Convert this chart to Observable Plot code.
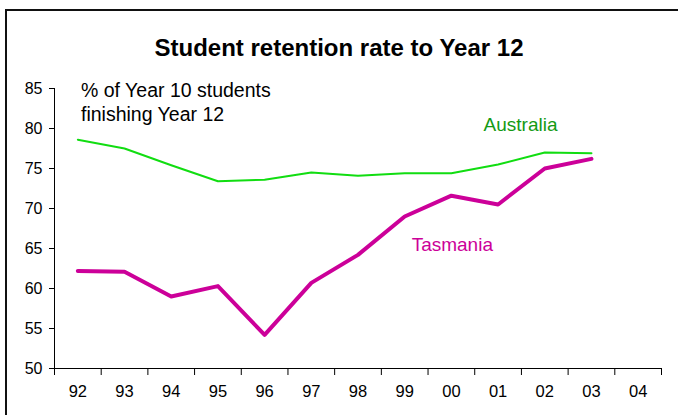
<!DOCTYPE html>
<html>
<head>
<meta charset="utf-8">
<script src="https://cdn.jsdelivr.net/npm/d3@7"></script>
<script src="https://cdn.jsdelivr.net/npm/@observablehq/plot@0.6"></script>
<style>
  html, body { margin: 0; padding: 0; background: #fff; }
  #wrap { position: relative; width: 678px; height: 415px; overflow: hidden; font-family: "Liberation Sans", Arial, sans-serif; }
  #frame { position: absolute; left: 5px; top: 9px; width: 700px; height: 420px; border-top: 2px solid #111; border-left: 2px solid #111; box-sizing: border-box; }
  #title { position: absolute; left: 0; top: 36px; width: 678px; text-align: center; font-size: 24px; font-weight: bold; color: #000; margin: 0; line-height: 24px; }
  #sub { position: absolute; left: 81px; top: 78px; font-size: 19.5px; line-height: 24px; color: #000; }
  #chart { position: absolute; left: 0; top: 0; }
</style>
</head>
<body>
<div id="wrap">
  <div id="frame"></div>
  <div id="chart"></div>
  <div id="title">Student retention rate to Year 12</div>
  <div id="sub">% of Year 10 students<br>finishing Year 12</div>
</div>
<script>
const years = ["92","93","94","95","96","97","98","99","00","01","02","03","04"];
const australia = [78.6, 77.5, 75.4, 73.4, 73.6, 74.5, 74.1, 74.4, 74.4, 75.5, 77.0, 76.9];
const tasmania  = [62.2, 62.1, 59.0, 60.3, 54.2, 60.7, 64.2, 69.0, 71.6, 70.5, 75.0, 76.2];
const yTicks = [50, 55, 60, 65, 70, 75, 80, 85];
const seriesLabels = [
  {text: "Australia", year: 9.48, value: 80.5, color: "#149a14"},
  {text: "Tasmania", year: 8.02, value: 65.5, color: "#cc0099"}
];

const ausData = australia.map((v, i) => ({i, v}));
const tasData = tasmania.map((v, i) => ({i, v}));
const centers = years.map((_, i) => i);
const bounds = d3.range(years.length + 1).map(i => i - 0.5);

const chart = Plot.plot({
  width: 678,
  height: 415,
  marginLeft: 54,
  marginRight: 17,
  marginTop: 88,
  marginBottom: 47,
  style: {fontFamily: "'Liberation Sans', Arial, sans-serif", fontSize: "16px", background: "transparent", overflow: "visible"},
  x: {type: "linear", domain: [-0.5, years.length - 0.5]},
  y: {domain: [50, 85]},
  marks: [
    Plot.axisY({ticks: yTicks, tickSize: 5, tickPadding: 7, fontSize: 16, label: null, stroke: "#000", color: "#000"}),
    Plot.axisX({ticks: bounds, tickSize: 7, tickFormat: () => "", label: null, stroke: "#000"}),
    Plot.axisX({ticks: centers, tickSize: 0, tickPadding: 17, tickFormat: i => years[i], fontSize: 16.5, label: null, color: "#000"}),
    Plot.ruleX([-0.5], {stroke: "#000", strokeWidth: 1}),
    Plot.ruleY([50], {stroke: "#000", strokeWidth: 1}),
    Plot.line(ausData, {x: "i", y: "v", stroke: "#11dd11", strokeWidth: 2}),
    Plot.line(tasData, {x: "i", y: "v", stroke: "#cc0099", strokeWidth: 4, strokeLinejoin: "round"}),
    Plot.text(seriesLabels, {x: "year", y: "value", text: "text", fill: "color", fontSize: 19, textAnchor: "middle"})
  ]
});
document.getElementById("chart").appendChild(chart);
</script>
</body>
</html>
